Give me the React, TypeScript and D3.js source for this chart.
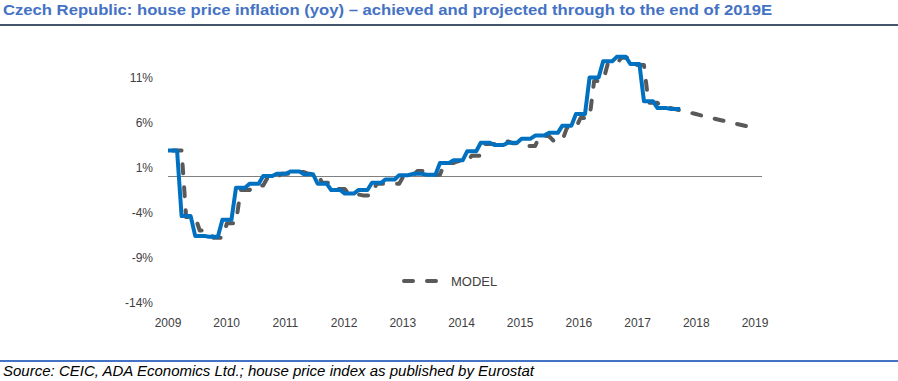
import React from "react";
import * as d3 from "d3";

// ---- data ----
const TITLE =
  "Czech Republic: house price inflation (yoy) – achieved and projected through to the end of 2019E";
const SOURCE =
  "Source:  CEIC, ADA Economics Ltd.; house price index as published by Eurostat";
const years = ["2009", "2010", "2011", "2012", "2013", "2014", "2015", "2016", "2017", "2018", "2019"];
const yTicks = [11, 6, 1, -4, -9, -14];

// achieved (quarterly, from 2009 Q1), %
const actual = [
  2.9, -4.4, -6.6, -6.7, -4.8, -1.25, -0.8, 0.05, 0.3, 0.55, 0.25, -0.8, -1.5, -1.9,
  -1.5, -0.7, -0.33, 0.15, 0.3, 0.2, 1.5, 1.8, 2.8, 3.75, 3.5, 3.75, 4.2, 4.55, 4.85,
  5.65, 6.95, 11.0, 12.8, 13.3, 12.5, 8.35, 7.6, 7.5,
];
// model fit (quarterly, from 2009 Q1), %
const model = [
  2.9, -4.5, -6.0, -6.8, -5.2, -1.5, -1.0, -0.1, 0.3, 0.5, 0.3, -0.7, -1.4, -2.0,
  -2.1, -0.8, -0.8, 0.1, 0.6, 0.2, 1.5, 1.7, 2.3, 3.6, 3.9, 3.7, 3.4, 4.5, 4.0, 5.4,
  6.5, 10.6, 12.5, 13.2, 12.4, 8.2, 7.6,
];
// model projection (quarterly, continuing after the fit), %
const projection = [7.35, 7.0, 6.6, 6.25, 5.9, 5.55];

const W = 898;
const H = 381;
const AXIS_MONTHS = 129.5; // span of the category axis, in months

export default function App() {
  const x = d3.scaleLinear().domain([0, AXIS_MONTHS]).range([168, 755]);
  const xYear = d3.scalePoint<string>().domain(years).range([168, 755]);
  const y = d3.scaleLinear().domain([-14, 11]).range([302.5, 77.5]);

  const actualPts: [number, number][] = [];
  actual.forEach((v, k) => {
    actualPts.push([3 * k, v], [3 * k + 2, v]);
  });
  const modelPts: [number, number][] = [];
  model.forEach((v, k) => {
    modelPts.push([3 * k + 1, v], [3 * k + 3, v]);
  });
  projection.forEach((v, i) => {
    const k = model.length + i;
    modelPts.push([3 * k + 2, v]);
  });
  const line = d3
    .line<[number, number]>()
    .x((d) => x(d[0]))
    .y((d) => y(d[1]));

  const tickFont = "'Liberation Sans', Arial, sans-serif";
  const dash = "9 14";

  return (
    <svg
      width={W}
      height={H}
      style={{ position: "absolute", left: 0, top: 0, background: "#fff" }}
    >
      <rect x={0} y={0} width={W} height={H} fill="#fff" />
      <text
        x={3}
        y={15}
        fontFamily="'Liberation Sans Narrow', 'Arial Narrow', 'Liberation Sans', Arial, sans-serif"
        fontWeight="bold"
        fontSize={15}
        fill="#4472C4"
        textLength={769}
        lengthAdjust="spacingAndGlyphs"
      >
        {TITLE}
      </text>
      <line x1={0} x2={W} y1={25} y2={25} stroke="#44546A" strokeWidth={2} />

      {/* y labels */}
      {yTicks.map((t) => (
        <text
          key={t}
          x={153}
          y={y(t)}
          dy="0.35em"
          textAnchor="end"
          fontFamily={tickFont}
          fontSize={12}
          fill="#404040"
        >
          {t + "%"}
        </text>
      ))}
      {/* x labels */}
      {years.map((yr) => (
        <text
          key={yr}
          x={xYear(yr)}
          y={327}
          textAnchor="middle"
          fontFamily={tickFont}
          fontSize={12}
          fill="#404040"
        >
          {yr}
        </text>
      ))}

      {/* zero line */}
      <line x1={x(0)} x2={762} y1={y(0)} y2={y(0)} stroke="#808080" strokeWidth={1} />

      {/* model */}
      <path
        d={line(modelPts) || ""}
        fill="none"
        stroke="#595959"
        strokeWidth={4}
        strokeDasharray={dash}
        strokeLinecap="round"
        strokeLinejoin="round"
      />
      {/* achieved */}
      <path
        d={line(actualPts) || ""}
        fill="none"
        stroke="#0070C0"
        strokeWidth={4}
        strokeLinejoin="round"
      />

      {/* legend */}
      <line
        x1={404}
        x2={440}
        y1={281}
        y2={281}
        stroke="#595959"
        strokeWidth={4}
        strokeDasharray="9 14"
        strokeLinecap="round"
      />
      <text
        x={451}
        y={281}
        dy="0.35em"
        fontFamily={tickFont}
        fontSize={13}
        fill="#404040"
      >
        MODEL
      </text>

      <line x1={0} x2={W} y1={361} y2={361} stroke="#4472C4" strokeWidth={2} />
      <text
        x={3}
        y={376}
        fontFamily="'Liberation Sans Narrow', 'Arial Narrow', 'Liberation Sans', Arial, sans-serif"
        fontStyle="italic"
        fontSize={14}
        fill="#000"
        textLength={531}
        lengthAdjust="spacingAndGlyphs"
      >
        {SOURCE}
      </text>
    </svg>
  );
}
